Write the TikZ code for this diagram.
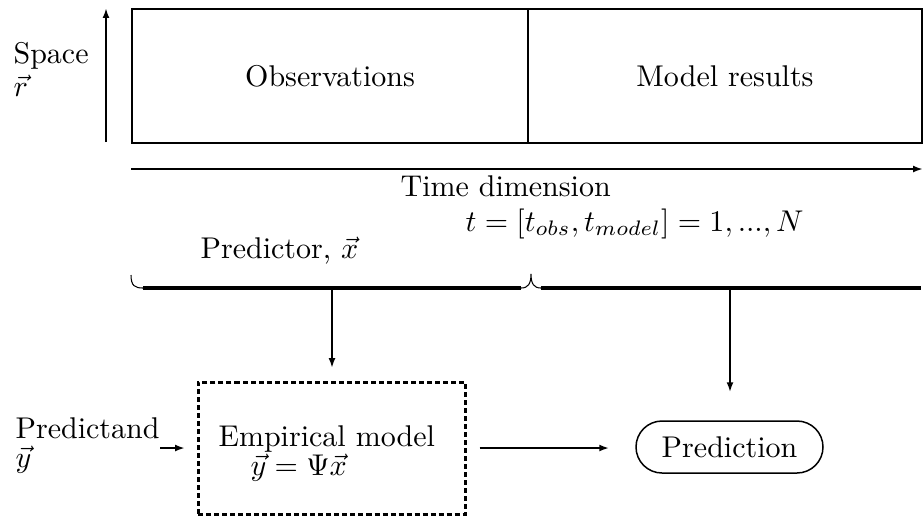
\documentclass[tikz,border=0pt]{standalone}
\usetikzlibrary{arrows.meta}
\begin{document}
\begin{tikzpicture}[x=0.33333pt,y=-0.33333pt,
  font=\fontsize{10}{12}\selectfont,
  arr/.style={-{Latex[length=3.3pt,width=2.3pt]}, line width=0.67pt},
  cell/.style={draw, line width=0.67pt, minimum height=44.67pt, inner sep=0pt, anchor=north west},
  lbl/.style={anchor=base west, inner sep=0pt},
  bracebar/.style={line width=1.15pt},
  bracecurl/.style={line width=0.35pt}]
\useasboundingbox (0,0) rectangle (923,517);
% top boxes
\node[cell, minimum width=132pt] (obs) at (131,8) {};
\node[cell, minimum width=131.33pt] (mod) at (527,8) {};
\node (obst) at (obs.center) {Observations};
\node (modt) at (mod.center) {Model results};
% space axis
\coordinate (sb) at (106,142);
\coordinate (st) at (106,8);
\draw[arr] (sb) -- (st);
\node[lbl] (space) at (13,63) {Space};
\node[lbl] (rvec) at (13,96) {$\vec r$};
% time axis
\coordinate (ta) at (131,169);
\coordinate (tb) at (923,169);
\draw[arr] (ta) -- (tb);
\node[lbl] (time) at (400,196) {Time dimension};
\node[lbl] (tform) at (465,231) {$t=[t_{obs},t_{model}]=1,...,N$};
\node[lbl] (predictor) at (200,258) {Predictor, $\vec x$};
% braces
\draw[bracebar] (143,288) -- (521,288);
\draw[bracebar] (541,288) -- (921,288);
\draw[bracecurl] (131,275) .. controls (131,286) and (135,288) .. (143,288);
\draw[bracecurl] (521,288) .. controls (528,288) and (531,284) .. (531,274)
  .. controls (531,284) and (534,288) .. (541,288);
\coordinate (bl) at (332,290);
\coordinate (br) at (730,290);
% empirical model box
\node[draw, line width=0.85pt, dash pattern=on 1.67pt off 1pt, minimum width=89pt,
  minimum height=44pt, inner sep=0pt, anchor=north west] (emp) at (197,381) {};
\node[lbl] (empt) at (218,446) {Empirical model};
\node[lbl] (empf) at (250,475) {$\vec y=\Psi\vec x$};
% prediction
\node[draw, line width=0.5pt, rounded corners=8.67pt, minimum width=62.33pt,
  minimum height=17.33pt, inner sep=0pt] (predn) at (729.5,447) {Prediction};
% predictand
\node[lbl] (pdand) at (15,438) {Predictand};
\node[lbl] (yvec) at (15,467) {$\vec y$};
\coordinate (pa) at (160,448);
% connectors
\draw[arr, shorten >=4.33pt] (bl) -- (bl |- emp.north);
\draw[arr, shorten >=9.33pt] (br) -- (br |- predn.north);
\draw[arr, shorten <=4.33pt, shorten >=8.67pt] (emp.east |- pa) -- (predn.west |- pa);
\draw[arr, shorten >=4pt] (pa) -- (emp.west |- pa);
\end{tikzpicture}
\end{document}
